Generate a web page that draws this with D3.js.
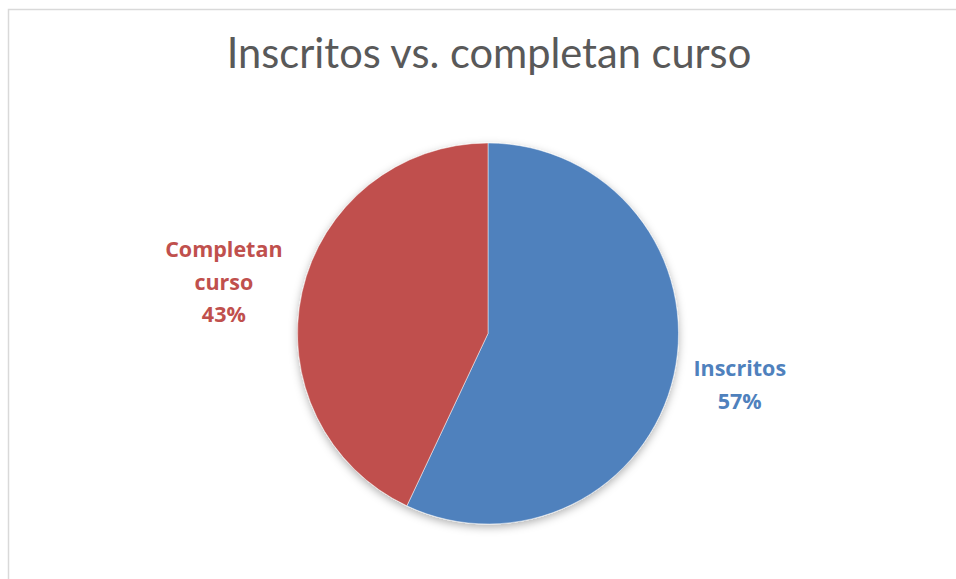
<!DOCTYPE html>
<html>
<head>
<meta charset="utf-8">
<script src="https://cdn.jsdelivr.net/npm/d3@7"></script>
<style>
  body { margin: 0; background: #fff; }
  svg { display: block; }
</style>
</head>
<body>
<div id="chart"></div>
<script>
// datos
var categorias = ["Inscritos", "Completan curso"];
var valores = [57, 43];
var colores = ["#4F81BD", "#C0504D"];
var titulo = "Inscritos vs. completan curso";

var width = 956, height = 579;
var cx = 488, cy = 333.5, radio = 190.5;

var svg = d3.select('#chart')
    .append('svg')
    .attr('width', width)
    .attr('height', height);

// sombra suave debajo del pastel
var defs = svg.append('defs');
var filtro = defs.append('filter')
    .attr('id', 'sombra')
    .attr('x', '-20%').attr('y', '-20%')
    .attr('width', '140%').attr('height', '140%');
filtro.append('feDropShadow')
    .attr('dx', 0).attr('dy', 3)
    .attr('stdDeviation', 4)
    .attr('flood-color', '#000')
    .attr('flood-opacity', 0.3);

// borde del área del gráfico (sigue fuera del lienzo a la derecha y abajo)
svg.append('rect')
    .attr('x', 8.5).attr('y', 9.5)
    .attr('width', 1200).attr('height', 1200)
    .attr('fill', 'none')
    .attr('stroke', '#d9d9d9')
    .attr('stroke-width', 1.5);

svg.append('text')
    .attr('x', cx + 1)
    .attr('y', 68)
    .attr('text-anchor', 'middle')
    .attr('font-family', 'Lato, "Open Sans", sans-serif')
    .attr('font-size', 41.6)
    .attr('fill', '#595959')
    .text(titulo);

var datos = categorias.map(function (c, i) { return { nombre: c, valor: valores[i], color: colores[i] }; });

var pie = d3.pie().sort(null).value(d => d.valor);
var arco = d3.arc().innerRadius(0).outerRadius(radio);
var arcos = pie(datos);
var total = d3.sum(valores);

var g = svg.append('g')
    .attr('transform', 'translate(' + cx + ',' + cy + ')');

g.append('g')
    .attr('filter', 'url(#sombra)')
    .selectAll('path')
    .data(arcos)
    .join('path')
    .attr('d', arco)
    .attr('fill', d => d.data.color)
    .attr('stroke', '#fff')
    .attr('stroke-opacity', 0.6)
    .attr('stroke-width', 0.8);

// etiquetas fuera del borde, a lo largo del ángulo medio
var rEtiqueta = radio + 20;
var lineH = 32.5;
arcos.forEach(function (d) {
    var a = (d.startAngle + d.endAngle) / 2;
    var x = Math.sin(a) * rEtiqueta;
    var y = -Math.cos(a) * (rEtiqueta + 25);
    var derecha = x > 0;
    var pct = Math.round(d.data.valor / total * 100) + '%';
    var lineas = d.data.nombre === "Completan curso" ? ["Completan", "curso", pct] : [d.data.nombre, pct];
    var t = g.append('text')
        .attr('font-family', '"Open Sans", sans-serif')
        .attr('font-weight', 'bold')
        .attr('font-size', 21.5)
        .attr('fill', d.data.color)
        .attr('text-anchor', 'middle');
    var y0 = y - (lineas.length - 1) * lineH / 2 + 7.5;
    var spans = lineas.map(function (l, i) {
        return t.append('tspan')
            .attr('y', y0 + i * lineH)
            .text(l);
    });
    // centrar el bloque según la línea más ancha
    var bloqueW = d3.max(spans, s => s.node().getComputedTextLength());
    var xc = derecha ? x + bloqueW / 2 : x - bloqueW / 2;
    spans.forEach(s => s.attr('x', xc));
});
</script>
</body>
</html>
